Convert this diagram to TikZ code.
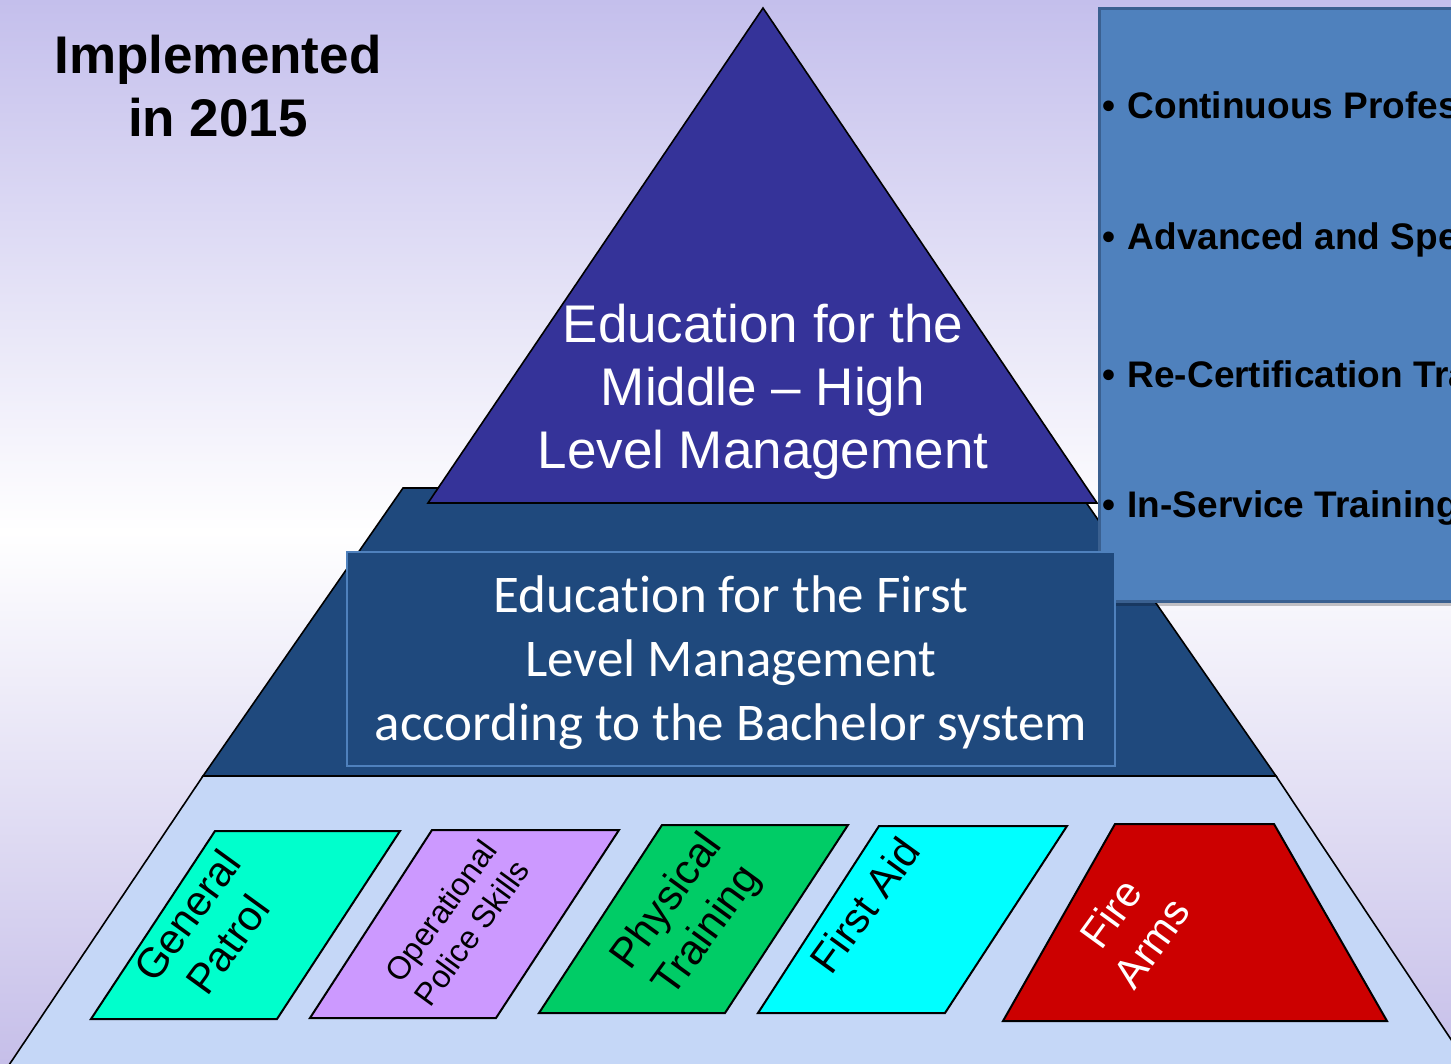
\documentclass[tikz,border=0pt]{standalone}
\usepackage{fontspec}
\setmainfont{Liberation Sans}
\newfontfamily\calfont[Ligatures=NoCommon]{Carlito}
\definecolor{bgtop}{HTML}{C4BFEC}
\definecolor{bgbot}{HTML}{C6BFE9}
\definecolor{tri}{HTML}{353399}
\definecolor{midtrap}{HTML}{1F497D}
\definecolor{bottrap}{HTML}{C5D7F7}
\definecolor{boxfill}{HTML}{4F81BD}
\definecolor{boxedge}{HTML}{3A6090}
\definecolor{gpcol}{HTML}{00FFCC}
\definecolor{opscol}{HTML}{CC99FF}
\definecolor{ptcol}{HTML}{00CC66}
\definecolor{facol}{HTML}{00FFFF}
\definecolor{firecol}{HTML}{CC0000}
\begin{document}
\begin{tikzpicture}[x=1pt,y=-1pt,
  outl/.style={draw=black,line width=1.6pt,line join=miter},
  tile/.style={draw=black,line width=2pt,line join=miter},
  lbl/.style={font=\fontsize{42}{50}\selectfont,align=center,rotate=54,inner sep=0pt},
  bul/.style={font=\bfseries\fontsize{37}{40}\selectfont,anchor=west,inner sep=0pt},
]
\clip (0,0) rectangle (1451,1063);
\shade[top color=bgtop,bottom color=bgbot,middle color=white] (0,0) rectangle (1451,1063);
% bottom level
\path[outl,fill=bottrap] (203,776) -- (1276,776) -- (1470,1068) -- (7,1068) -- cycle;
% middle level
\path[outl,fill=midtrap] (403,488) -- (1076,488) -- (1276,776) -- (203,776) -- cycle;
% top triangle
\path[outl,fill=tri] (763,8) -- (1097,503) -- (428,503) -- cycle;
\node[text=white,font=\fontsize{53}{63}\selectfont,align=center] (top) at (763,392)
  {Education for the\\Middle -- High\\Level Management};
% right box
\fill[black,opacity=0.22] (1103,13) rectangle (1470,606);
\path[draw=boxedge,line width=3pt,fill=boxfill] (1099,8) rectangle (1470,601);
\node[bul] (b1) at (1102,105) {•\hspace{0.34em}Continuous Profes};
\node[bul] (b2) at (1102,240) {•\hspace{0.34em}Advanced and Spe};
\node[bul] (b3) at (1102,374) {•\hspace{0.34em}Re-Certification Tra};
\node[bul] (b4) at (1102,508) {•\hspace{0.34em}In-Service Training};
% middle text box
\path[draw=boxfill,line width=1.5pt,fill=midtrap] (347,552) rectangle (1115,766);
\node[text=white,font=\calfont\fontsize{53}{64}\selectfont,align=center] (mid) at (731,663)
  {Education for the First\\Level Management\\according to the Bachelor system};
% title
\node[font=\bfseries\fontsize{53}{63}\selectfont,align=center] (title) at (218,86)
  {Implemented\\in 2015};
% skill tiles
\path[tile,fill=gpcol] (91,1019) -- (277,1019) -- (400,831) -- (215,831) -- cycle;
\path[tile,fill=opscol] (310,1018) -- (496,1018) -- (619,830) -- (432,830) -- cycle;
\path[tile,fill=ptcol] (539,1013) -- (725,1013) -- (848,825) -- (662,825) -- cycle;
\path[tile,fill=facol] (758,1013) -- (945,1013) -- (1067,826) -- (879,826) -- cycle;
\path[tile,fill=firecol] (1003,1021) -- (1387,1021) -- (1274,824) -- (1115,824) -- cycle;
\node[lbl] (gp) at (207,930) {General\\Patrol};
\node[lbl,font=\fontsize{32}{38}\selectfont] (ops) at (456,922) {Operational\\Police Skills};
\node[lbl] (pt) at (688,917) {Physical\\Training};
\node[lbl] (fa) at (865,905) {First Aid};
\node[lbl,text=white] (fire) at (1131,928) {Fire\\Arms};
\end{tikzpicture}
\end{document}
